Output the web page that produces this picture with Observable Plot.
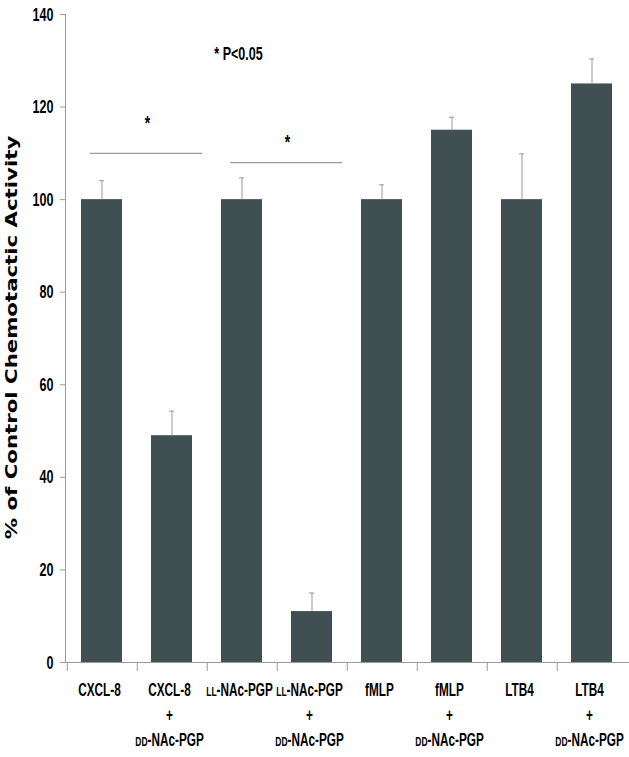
<!DOCTYPE html>
<html><head><meta charset="utf-8">
<script src="https://cdn.jsdelivr.net/npm/d3@7"></script>
<script src="https://cdn.jsdelivr.net/npm/@observablehq/plot@0.6"></script>
<style>
html,body{margin:0;padding:0;background:#fff;}
#chart svg{display:block;}
</style></head><body><div id="chart"></div>
<script>
const categories = ["CXCL-8","CXCL-8 + DD-NAc-PGP","LL-NAc-PGP","LL-NAc-PGP + DD-NAc-PGP","fMLP","fMLP + DD-NAc-PGP","LTB4","LTB4 + DD-NAc-PGP"];
const tickLabels = ["CXCL-8","CXCL-8\n+\nDD-NAc-PGP","LL-NAc-PGP","LL-NAc-PGP\n+\nDD-NAc-PGP","fMLP","fMLP\n+\nDD-NAc-PGP","LTB4","LTB4\n+\nDD-NAc-PGP"];
const values = [100, 49, 100, 11, 100, 115, 100, 125];
const errors = [4.1, 5.3, 4.7, 4.0, 3.2, 2.8, 9.9, 5.4];
const yTicks = [0, 20, 40, 60, 80, 100, 120, 140];
const bracketFrom = ["CXCL-8", "LL-NAc-PGP"];
const bracketTo = ["CXCL-8 + DD-NAc-PGP", "LL-NAc-PGP + DD-NAc-PGP"];
const bracketY = [110, 108];
const starY = [116.5, 112.5];
const noteText = "* P<0.05";
const noteY = 131.5;
const yLabel = "% of Control Chemotactic Activity";

const W = 629, H = 757, mL = 65, mR = 0, mT = 14, mB = 95;
const bw = (W - mL - mR) / categories.length;
const font = "'Liberation Sans', Arial, sans-serif";
const barColor = "#3f4f52";
const gray = "#9a9a9a";
const narrowScale = 0.66;
const xLabelScale = 0.62;

const rows = categories.map((c, i) => ({cat: c, v: values[i], top: values[i] + errors[i]}));
const labelOf = new Map(categories.map((c, i) => [c, tickLabels[i]]));
const br = bracketFrom.map((f, i) => ({from: f, to: bracketTo[i], y: bracketY[i], sy: starY[i]}));

const chart = Plot.plot({
  width: W, height: H,
  marginLeft: mL, marginRight: mR, marginTop: mT, marginBottom: mB,
  style: {fontFamily: font, color: "black", background: "white"},
  x: {domain: categories, padding: 0, label: null},
  y: {domain: [0, 140], label: null},
  marks: [
    Plot.barY(rows, {x: "cat", y: "v", fill: barColor, insetLeft: 14, insetRight: 15}),
    Plot.ruleX(rows, {x: "cat", y1: "v", y2: "top", stroke: gray, strokeWidth: 1, dx: -0.5}),
    Plot.tickY(rows, {x: "cat", y: "top", stroke: gray, insetLeft: 32, insetRight: 33}),
    Plot.ruleY(br, {x1: "from", x2: "to", y: "y", stroke: gray, strokeWidth: 1.2, insetLeft: 23, insetRight: 5}),
    Plot.text(br, {x: "from", y: "sy", text: () => "*", dx: 45, fontSize: 21, fontWeight: "bold"}),
    Plot.text([noteText], {x: () => "LL-NAc-PGP", y: () => noteY, text: d => d, dx: -4, fontSize: 19, fontWeight: "bold"}),
    Plot.ruleY([0], {stroke: gray}),
    Plot.frame({anchor: "left", stroke: gray}),
    Plot.axisY({ticks: yTicks, tickSize: 5, tickPadding: 7, stroke: gray, fontSize: 19, fontWeight: "bold", label: null}),
    Plot.axisX({tickSize: 9, tickFormat: () => "", dx: -bw / 2, stroke: gray, label: null}),
    Plot.axisX({tickSize: 0, tickPadding: 16, dx: -3, tickFormat: d => labelOf.get(d), fontSize: 19, fontWeight: "bold", lineHeight: 1.32, label: null}),
    Plot.text([yLabel], {frameAnchor: "left", rotate: -90, dx: -54, dy: -1, textAnchor: "middle", text: d => d, fontFamily: "'DejaVu Sans', sans-serif", fontSize: 16, fontWeight: "bold"})
  ]
});

const svg = d3.select(chart);
const xLabelSet = new Set(tickLabels.map(s => s.replace(/\n/g, "")));
// small caps for the stereo prefixes (DD / LL)
svg.selectAll("text, tspan").each(function () {
  if (this.childNodes.length !== 1 || this.firstChild.nodeType !== 3) return;
  const s = this.firstChild.nodeValue;
  const m = s.match(/^(DD|LL)(-.*)$/);
  if (!m) return;
  this.textContent = "";
  const sc = document.createElementNS("http://www.w3.org/2000/svg", "tspan");
  sc.setAttribute("font-size", "0.72em");
  sc.textContent = m[1];
  this.appendChild(sc);
  this.appendChild(document.createTextNode(m[2]));
});
// condensed look for tick labels / annotations; stretched look for the axis title
svg.selectAll("text").each(function () {
  const t = this.getAttribute("transform");
  if (!t) return;
  const txt = this.textContent;
  if (txt === yLabel) this.setAttribute("transform", t + " scale(1.33,1)");
  else if (xLabelSet.has(txt)) this.setAttribute("transform", t + ` scale(${xLabelScale},1)`);
  else this.setAttribute("transform", t + ` scale(${narrowScale},1)`);
});

document.getElementById("chart").appendChild(chart);
</script>
</body></html>
